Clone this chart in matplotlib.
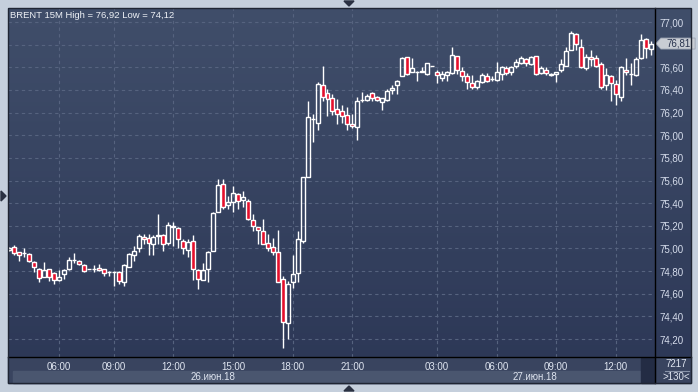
import matplotlib
matplotlib.use("Agg")
import numpy as np
import matplotlib.pyplot as plt
from matplotlib.patches import Rectangle, Polygon
from matplotlib.lines import Line2D
from matplotlib.colors import LinearSegmentedColormap

plt.rcParams['font.family'] = ['Liberation Sans', 'DejaVu Sans']

# BRENT 15M bars (130 visible)
opens = [74.99, 75.01, 74.97, 74.96, 74.95, 74.88, 74.82, 74.75, 74.82, 74.78,
         74.72, 74.77, 74.82, 74.90, 74.89, 74.85, 74.82, 74.82, 74.83, 74.82,
         74.79, 74.79, 74.79, 74.70, 74.84, 74.94, 75.00, 75.10, 75.09, 75.04,
         75.11, 75.12, 75.05, 75.19, 75.18, 75.07, 74.99, 75.07, 74.81, 74.72,
         74.82, 74.98, 75.32, 75.57, 75.38, 75.41, 75.48, 75.43, 75.42, 75.25,
         75.19, 75.15, 75.05, 75.01, 74.97, 74.73, 74.34, 74.70, 74.78, 75.07,
         75.63, 76.14, 76.11, 76.44, 76.37, 76.33, 76.23, 76.21, 76.18, 76.10,
         76.07, 76.31, 76.31, 76.37, 76.34, 76.29, 76.31, 76.40, 76.44, 76.52,
         76.69, 76.56, 76.56, 76.56, 76.54, 76.61, 76.56, 76.51, 76.53, 76.55,
         76.70, 76.57, 76.52, 76.46, 76.43, 76.47, 76.52, 76.50, 76.49, 76.54,
         76.59, 76.56, 76.61, 76.64, 76.67, 76.63, 76.70, 76.55, 76.58, 76.54,
         76.54, 76.58, 76.61, 76.75, 76.89, 76.78, 76.59, 76.69, 76.68, 76.63,
         76.44, 76.52, 76.45, 76.34, 76.58, 76.54, 76.53, 76.68, 76.85, 76.76]
highs = [75.01, 75.03, 74.97, 75.00, 74.96, 74.89, 74.83, 74.88, 74.82, 74.79,
         74.81, 74.82, 74.92, 74.96, 74.90, 74.86, 74.82, 74.85, 74.86, 74.82,
         74.80, 74.80, 74.80, 74.86, 74.96, 75.02, 75.13, 75.13, 75.13, 75.12,
         75.30, 75.13, 75.23, 75.23, 75.19, 75.08, 75.08, 75.12, 74.82, 74.87,
         74.98, 75.32, 75.61, 75.61, 75.46, 75.55, 75.49, 75.51, 75.44, 75.30,
         75.19, 75.26, 75.13, 75.09, 75.16, 74.76, 74.71, 74.94, 75.15, 75.63,
         76.30, 76.19, 76.47, 76.61, 76.41, 76.36, 76.32, 76.27, 76.25, 76.19,
         76.34, 76.38, 76.36, 76.38, 76.35, 76.33, 76.41, 76.44, 76.49, 76.69,
         76.69, 76.68, 76.57, 76.60, 76.64, 76.61, 76.58, 76.57, 76.57, 76.78,
         76.70, 76.60, 76.55, 76.53, 76.49, 76.55, 76.55, 76.52, 76.65, 76.61,
         76.61, 76.61, 76.67, 76.70, 76.68, 76.70, 76.70, 76.61, 76.60, 76.55,
         76.56, 76.67, 76.78, 76.92, 76.90, 76.85, 76.72, 76.75, 76.71, 76.65,
         76.59, 76.53, 76.49, 76.61, 76.68, 76.64, 76.69, 76.89, 76.86, 76.83]
lows = [74.98, 74.94, 74.89, 74.92, 74.88, 74.79, 74.70, 74.75, 74.71, 74.69,
        74.71, 74.73, 74.81, 74.87, 74.85, 74.79, 74.82, 74.79, 74.80, 74.76,
        74.76, 74.67, 74.69, 74.67, 74.84, 74.89, 74.97, 75.04, 74.94, 74.94,
        75.04, 74.98, 75.03, 75.02, 75.00, 74.95, 74.92, 74.72, 74.64, 74.72,
        74.70, 74.98, 75.32, 75.35, 75.35, 75.32, 75.35, 75.37, 75.25, 75.15,
        75.04, 75.04, 74.98, 74.94, 74.70, 74.12, 74.20, 74.65, 74.70, 75.05,
        75.63, 75.94, 76.05, 76.30, 76.17, 76.18, 76.10, 76.11, 76.05, 76.06,
        75.96, 76.29, 76.30, 76.30, 76.30, 76.22, 76.30, 76.36, 76.36, 76.52,
        76.53, 76.56, 76.48, 76.56, 76.53, 76.61, 76.46, 76.48, 76.48, 76.54,
        76.54, 76.48, 76.41, 76.41, 76.41, 76.46, 76.47, 76.48, 76.48, 76.49,
        76.53, 76.53, 76.59, 76.63, 76.61, 76.62, 76.53, 76.54, 76.53, 76.52,
        76.47, 76.56, 76.61, 76.75, 76.75, 76.59, 76.58, 76.61, 76.60, 76.41,
        76.40, 76.30, 76.27, 76.30, 76.53, 76.44, 76.52, 76.67, 76.68, 76.71]
closes = [75.00, 74.96, 74.94, 74.96, 74.89, 74.84, 74.74, 74.81, 74.75, 74.72,
          74.75, 74.81, 74.90, 74.90, 74.86, 74.80, 74.82, 74.82, 74.81, 74.78,
          74.79, 74.79, 74.71, 74.85, 74.95, 74.98, 75.11, 75.08, 75.05, 75.10,
          75.12, 75.04, 75.21, 75.20, 75.08, 75.00, 75.06, 74.82, 74.73, 74.81,
          74.97, 75.31, 75.56, 75.37, 75.41, 75.49, 75.42, 75.45, 75.26, 75.20,
          75.16, 75.04, 75.00, 74.97, 74.70, 74.35, 74.69, 74.77, 75.08, 75.63,
          76.16, 76.14, 76.45, 76.34, 76.32, 76.21, 76.19, 76.17, 76.10, 76.08,
          76.30, 76.31, 76.35, 76.33, 76.31, 76.33, 76.39, 76.42, 76.48, 76.68,
          76.54, 76.59, 76.56, 76.57, 76.64, 76.61, 76.53, 76.54, 76.56, 76.71,
          76.58, 76.52, 76.47, 76.43, 76.48, 76.53, 76.48, 76.50, 76.56, 76.60,
          76.55, 76.60, 76.65, 76.68, 76.64, 76.69, 76.54, 76.59, 76.55, 76.53,
          76.56, 76.63, 76.74, 76.90, 76.81, 76.60, 76.69, 76.67, 76.61, 76.43,
          76.53, 76.46, 76.36, 76.60, 76.56, 76.54, 76.67, 76.84, 76.77, 76.81]

time_ticks = [10, 21, 33, 45, 57, 69, 86, 98, 110, 122]
time_labels = ["06:00", "09:00", "12:00", "15:00", "18:00", "21:00",
               "03:00", "06:00", "09:00", "12:00"]
date_pos = [41, 105.7]
date_labels = ["26.июн.18", "27.июн.18"]
price_ticks = [74.2, 74.4, 74.6, 74.8, 75.0, 75.2, 75.4, 75.6, 75.8,
               76.0, 76.2, 76.4, 76.6, 76.8, 77.0]

W, H = 698, 392


def box(x0, y0, x1, y1):
    # pixel box with top-left origin -> figure fraction rect
    return [x0 / W, 1 - y1 / H, (x1 - x0) / W, (y1 - y0) / H]


def fx(x):
    return x / W


def fy(y):
    return 1 - y / H


fig = plt.figure(figsize=(6.98, 3.92), dpi=100)
fig.patch.set_facecolor("#c5cfdc")

# gradient panel background
bg = fig.add_axes(box(8, 8, 691, 383))
bg.set_zorder(-3)
cmap = LinearSegmentedColormap.from_list("panel", ["#404e6a", "#2c3756"])
grad = np.linspace(0, 1, 256).reshape(-1, 1)
bg.imshow(grad, cmap=cmap, aspect="auto", extent=[0, 1, 0, 1], origin="upper")
bg.set_xlim(0, 1)
bg.set_ylim(0, 1)
bg.axis("off")

# bottom time area, date strip, scroller
fig.add_artist(Rectangle((fx(8), fy(383)), fx(683), 26 / H, color="#39445f", zorder=-2))
fig.add_artist(Rectangle((fx(13), fy(383)), fx(627), 12 / H, color="#4a566f", zorder=-2))
fig.add_artist(Rectangle((fx(641), fy(383)), fx(14), 25 / H, color="#232c44", zorder=-2))

# main plot
ax = fig.add_axes(box(8, 8, 655, 357))
ax.patch.set_alpha(0)
for s in ax.spines.values():
    s.set_visible(False)
ax.set_xlim(-0.26, 129.87)
ax.set_ylim(74.041, 77.124)

ax.yaxis.tick_right()
ax.set_yticks(price_ticks)
# 76,80 sits under the last-price marker in the original, so it stays blank
ax.set_yticklabels(["" if abs(v - 76.8) < 1e-6 else f"{v:.2f}".replace(".", ",")
                    for v in price_ticks])
ax.tick_params(axis="y", length=0, pad=3, labelcolor="#d6ddec", labelsize=7)
ax.set_xticks(time_ticks)
ax.set_xticklabels(time_labels)
ax.tick_params(axis="x", length=0, pad=3.5, labelcolor="#dfe5f0", labelsize=7)
ax.grid(True, color="#56637f", linestyle=(0, (3, 3)), linewidth=0.8)
ax.set_axisbelow(True)

o = np.array(opens)
h = np.array(highs)
l = np.array(lows)
c = np.array(closes)
x = np.arange(len(o))
top = np.maximum(o, c)
bot = np.minimum(o, c)
ax.vlines(x, top, h, color="white", linewidth=1.0, zorder=3)
ax.vlines(x, l, bot, color="white", linewidth=1.0, zorder=3)
fills = ["#e5102c" if cc < oo else "none" for oo, cc in zip(o, c)]
ax.bar(x, top - bot, bottom=bot, width=0.8, color=fills,
       edgecolor="white", linewidth=1.0, zorder=4)

for p, t in zip(date_pos, date_labels):
    ax.text(p, -0.057, t, transform=ax.get_xaxis_transform(), ha="center",
            va="center", color="#dfe5f0", fontsize=7)

# last price marker
last = closes[-1]
ytr = ax.get_yaxis_transform()
hh = 5.5 / 113.2
ax.add_patch(Polygon([(1.0015, last), (1.009, last + hh), (1.062, last + hh),
                      (1.062, last - hh), (1.009, last - hh)], closed=True,
                     transform=ytr, facecolor="#c9cdd4", edgecolor="#9aa3b3",
                     linewidth=0.6, clip_on=False, zorder=6))
ax.text(1.036, last, f"{last:.2f}".replace(".", ","), transform=ytr,
        ha="center", va="center", color="#27324d", fontsize=7, zorder=7)

# separating lines and frame
fig.add_artist(Line2D([fx(655), fx(655)], [fy(8), fy(383)], color="black", lw=1, zorder=5))
fig.add_artist(Line2D([fx(8), fx(691)], [fy(357), fy(357)], color="black", lw=1, zorder=5))
fig.add_artist(Rectangle((fx(8), fy(383)), fx(683), 375 / H, fill=False,
                         edgecolor="#1f2533", lw=1, zorder=5))

fig.text(fx(10), fy(15), "BRENT 15M High = 76,92 Low = 74,12", color="#eef1f6",
         fontsize=6.8, va="center", ha="left")
fig.text(fx(676.5), fy(364), "7217", color="#dfe5f0", fontsize=7, ha="center", va="center")
fig.add_artist(Line2D([fx(665), fx(689)], [fy(370.7), fy(370.7)], color="#8893a8", lw=0.8))
fig.text(fx(676), fy(377), ">130<", color="#dfe5f0", fontsize=7, ha="center", va="center")

# scroll arrows
tri = "#2a3142"
fig.add_artist(Polygon([(fx(344), fy(1)), (fx(354), fy(1)), (fx(349), fy(6))], color=tri))
fig.add_artist(Polygon([(fx(344), fy(391)), (fx(354), fy(391)), (fx(349), fy(386))], color=tri))
fig.add_artist(Polygon([(fx(1), fy(191)), (fx(1), fy(201)), (fx(6), fy(196))], color=tri))

fig.savefig("out.png", dpi=100, facecolor=fig.get_facecolor())
